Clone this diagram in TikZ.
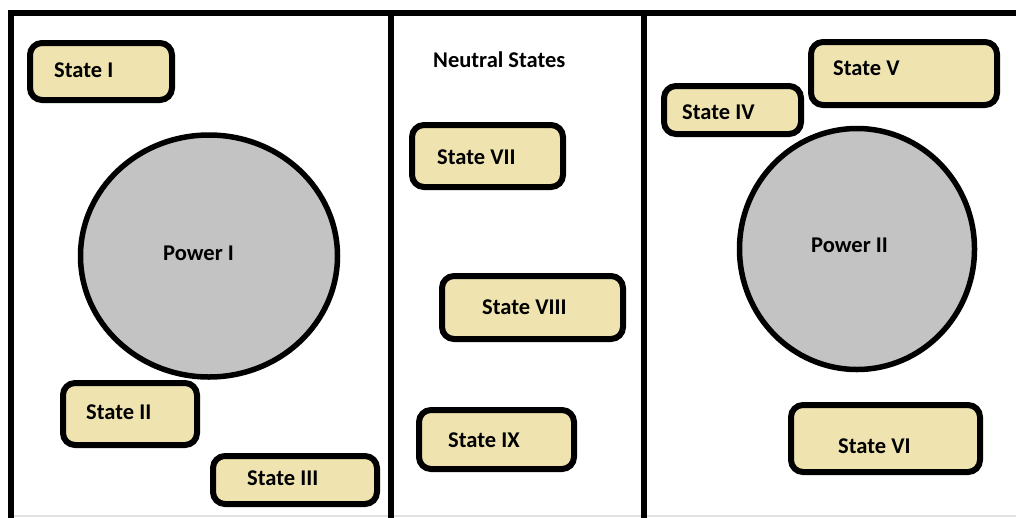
\documentclass[tikz,border=0pt]{standalone}
\usepackage{fontspec}
\setmainfont{Carlito}
\usetikzlibrary{shapes.geometric}
\definecolor{tanfill}{RGB}{239,228,176}
\definecolor{powerfill}{RGB}{195,195,195}
\definecolor{edgegray}{RGB}{225,225,225}
\tikzset{
  frameline/.style={line width=6pt, line cap=rect},
  statebox/.style={draw, fill=tanfill, line width=6pt, rounded corners=12pt, inner sep=0pt, outer sep=0pt, anchor=north west},
  powercircle/.style={draw, fill=powerfill, ellipse, line width=5.5pt, inner sep=0pt},
  lbl/.style={font=\fontsize{22.5}{26}\selectfont\bfseries, inner sep=0pt, anchor=base west}
}
\begin{document}
\begin{tikzpicture}[x=1pt, y=-1pt]
\useasboundingbox (0,0) rectangle (1016,517);
\fill[white] (0,0) rectangle (1016,517);
% frame
\coordinate (tl) at (11,13);
\coordinate (tr) at (1020,13);
\coordinate (bl) at (11,522);
\coordinate (d1t) at (391,13);
\coordinate (d1b) at (391,522);
\coordinate (d2t) at (644,13);
\coordinate (d2b) at (644,522);
\coordinate (gl) at (14,516);
\coordinate (gr) at (1016,516);
\draw[edgegray, line width=1.5pt] (gl) -- (gr);
\draw[frameline] (bl) -- (tl) -- (tr);
\draw[frameline] (d1t) -- (d1b);
\draw[frameline] (d2t) -- (d2b);
% power circles
\node[powercircle, minimum width=257pt, minimum height=242pt] (p1) at (209,256) {};
\node[powercircle, minimum width=235pt, minimum height=241pt] (p2) at (857,249) {};
% state boxes
\node[statebox, minimum width=142pt, minimum height=57pt] (s1) at (30,43) {};
\node[statebox, minimum width=134pt, minimum height=62pt] (s2) at (63,383) {};
\node[statebox, minimum width=164pt, minimum height=48pt] (s3) at (213,456) {};
\node[statebox, minimum width=137pt, minimum height=48pt] (s4) at (664,86) {};
\node[statebox, minimum width=186pt, minimum height=63pt] (s5) at (811,42) {};
\node[statebox, minimum width=189pt, minimum height=67pt] (s6) at (791,405) {};
\node[statebox, minimum width=151pt, minimum height=62pt] (s7) at (412,125) {};
\node[statebox, minimum width=181pt, minimum height=63pt] (s8) at (442,276) {};
\node[statebox, minimum width=155pt, minimum height=59pt] (s9) at (419,410) {};
% labels
\node[lbl] (t1) at (54,77) {State I};
\node[lbl] (t2) at (86,419) {State II};
\node[lbl] (t3) at (247,485) {State III};
\node[lbl] (t4) at (682,119) {State IV};
\node[lbl] (t5) at (833,75) {State V};
\node[lbl] (t6) at (838,453) {State VI};
\node[lbl] (t7) at (437,164) {State VII};
\node[lbl] (t8) at (482,314) {State VIII};
\node[lbl] (t9) at (448,447) {State IX};
\node[lbl] (tn) at (433,67) {Neutral States};
\node[lbl] (tp1) at (163,260) {Power I};
\node[lbl] (tp2) at (811,252) {Power II};
\end{tikzpicture}
\end{document}
